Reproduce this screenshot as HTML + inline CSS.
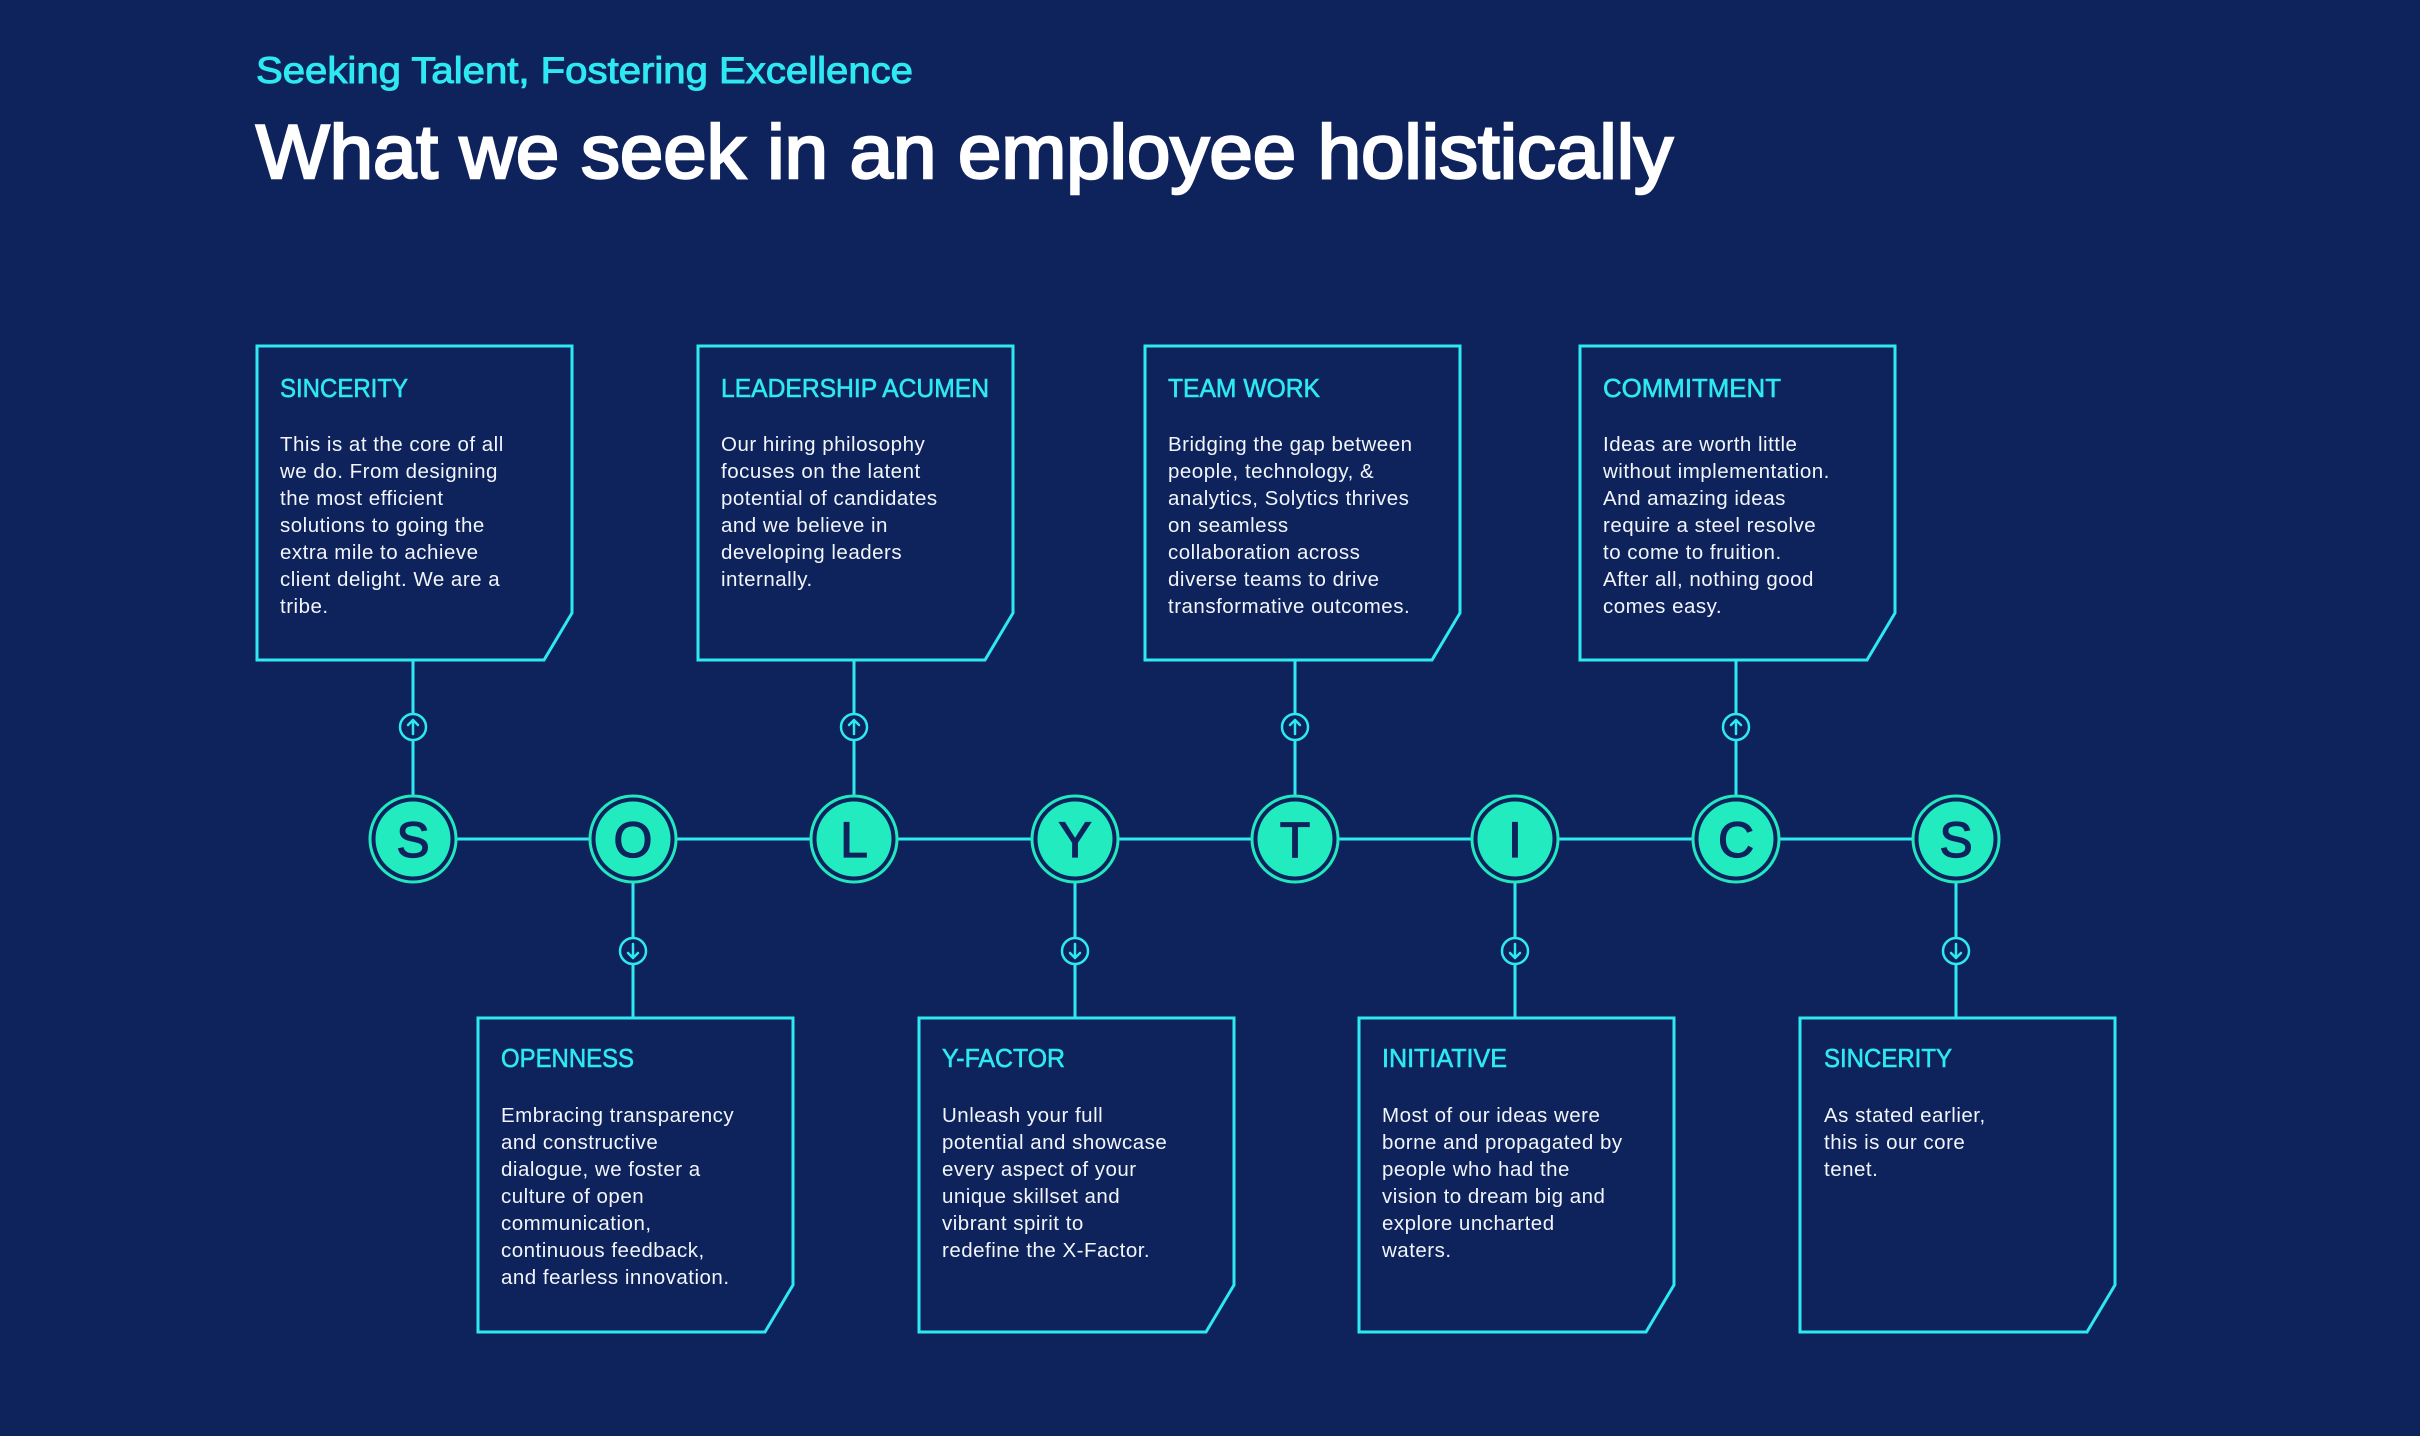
<!DOCTYPE html>
<html><head><meta charset="utf-8"><style>
html,body{margin:0;padding:0;background:#0e235c;}
svg{display:block}
.t{font-family:"Liberation Sans",sans-serif;fill:#2ee8f2;font-size:26px;stroke:#2ee8f2;stroke-width:0.6;}
.b{font-family:"Liberation Sans",sans-serif;fill:#f2f5fa;font-size:20.5px;letter-spacing:0.5px;}
.L{font-family:"Liberation Sans",sans-serif;fill:#0e235c;font-size:50px;text-anchor:middle;stroke:#0e235c;stroke-width:1.2;}
</style></head><body>
<svg width="2420" height="1436" viewBox="0 0 2420 1436" xmlns="http://www.w3.org/2000/svg">
<rect width="2420" height="1436" fill="#0e235c"/>
<text x="256" y="83" font-family="Liberation Sans, sans-serif" font-size="37" fill="#2ee8f2" textLength="657" lengthAdjust="spacingAndGlyphs" stroke="#2ee8f2" stroke-width="1">Seeking Talent, Fostering Excellence</text>
<text x="256" y="178" font-family="Liberation Sans, sans-serif" font-size="76" fill="#ffffff" textLength="1417" lengthAdjust="spacingAndGlyphs" stroke="#ffffff" stroke-width="2.5">What we seek in an employee holistically</text>

<g stroke="#2ee8f2" stroke-width="3" fill="none">
<line x1="413" y1="839" x2="1956" y2="839"/>
<line x1="413" y1="660" x2="413" y2="795"/>
<line x1="854" y1="660" x2="854" y2="795"/>
<line x1="1295" y1="660" x2="1295" y2="795"/>
<line x1="1736" y1="660" x2="1736" y2="795"/>
<line x1="633" y1="883" x2="633" y2="1018"/>
<line x1="1075" y1="883" x2="1075" y2="1018"/>
<line x1="1515" y1="883" x2="1515" y2="1018"/>
<line x1="1956" y1="883" x2="1956" y2="1018"/>
<path d="M257 346 H572 V613 L544 660 H257 Z"/>
<path d="M698 346 H1013 V613 L985 660 H698 Z"/>
<path d="M1145 346 H1460 V613 L1432 660 H1145 Z"/>
<path d="M1580 346 H1895 V613 L1867 660 H1580 Z"/>
<path d="M478 1018 H793 V1285 L765 1332 H478 Z"/>
<path d="M919 1018 H1234 V1285 L1206 1332 H919 Z"/>
<path d="M1359 1018 H1674 V1285 L1646 1332 H1359 Z"/>
<path d="M1800 1018 H2115 V1285 L2087 1332 H1800 Z"/>
</g>
<g stroke="#2ee8f2" stroke-width="2.5" fill="#0e235c" stroke-linecap="round" stroke-linejoin="round">
<g transform="translate(413,727)"><circle r="13"/><path d="M0 7V-7M-5 -2L0 -7L5 -2" fill="none"/></g>
<g transform="translate(854,727)"><circle r="13"/><path d="M0 7V-7M-5 -2L0 -7L5 -2" fill="none"/></g>
<g transform="translate(1295,727)"><circle r="13"/><path d="M0 7V-7M-5 -2L0 -7L5 -2" fill="none"/></g>
<g transform="translate(1736,727)"><circle r="13"/><path d="M0 7V-7M-5 -2L0 -7L5 -2" fill="none"/></g>
<g transform="translate(633,951)"><circle r="13"/><path d="M0 -7V7M-5 2L0 7L5 2" fill="none"/></g>
<g transform="translate(1075,951)"><circle r="13"/><path d="M0 -7V7M-5 2L0 7L5 2" fill="none"/></g>
<g transform="translate(1515,951)"><circle r="13"/><path d="M0 -7V7M-5 2L0 7L5 2" fill="none"/></g>
<g transform="translate(1956,951)"><circle r="13"/><path d="M0 -7V7M-5 2L0 7L5 2" fill="none"/></g>
</g>
<g>
<g transform="translate(413,839)"><circle r="43" fill="#0e235c" stroke="#22e8c0" stroke-width="3"/><circle r="37.5" fill="#22ebc0"/><text class="L" y="18">S</text></g>
<g transform="translate(633,839)"><circle r="43" fill="#0e235c" stroke="#22e8c0" stroke-width="3"/><circle r="37.5" fill="#22ebc0"/><text class="L" y="18">O</text></g>
<g transform="translate(854,839)"><circle r="43" fill="#0e235c" stroke="#22e8c0" stroke-width="3"/><circle r="37.5" fill="#22ebc0"/><text class="L" y="18">L</text></g>
<g transform="translate(1075,839)"><circle r="43" fill="#0e235c" stroke="#22e8c0" stroke-width="3"/><circle r="37.5" fill="#22ebc0"/><text class="L" y="18">Y</text></g>
<g transform="translate(1295,839)"><circle r="43" fill="#0e235c" stroke="#22e8c0" stroke-width="3"/><circle r="37.5" fill="#22ebc0"/><text class="L" y="18">T</text></g>
<g transform="translate(1515,839)"><circle r="43" fill="#0e235c" stroke="#22e8c0" stroke-width="3"/><circle r="37.5" fill="#22ebc0"/><text class="L" y="18">I</text></g>
<g transform="translate(1736,839)"><circle r="43" fill="#0e235c" stroke="#22e8c0" stroke-width="3"/><circle r="37.5" fill="#22ebc0"/><text class="L" y="18">C</text></g>
<g transform="translate(1956,839)"><circle r="43" fill="#0e235c" stroke="#22e8c0" stroke-width="3"/><circle r="37.5" fill="#22ebc0"/><text class="L" y="18">S</text></g>
</g>

<text class="t" x="280" y="397" textLength="128" lengthAdjust="spacingAndGlyphs">SINCERITY</text>
<text class="b"><tspan x="280" y="451">This is at the core of all</tspan><tspan x="280" dy="27">we do. From designing</tspan><tspan x="280" dy="27">the most efficient</tspan><tspan x="280" dy="27">solutions to going the</tspan><tspan x="280" dy="27">extra mile to achieve</tspan><tspan x="280" dy="27">client delight. We are a</tspan><tspan x="280" dy="27">tribe.</tspan></text>

<text class="t" x="721" y="397" textLength="268" lengthAdjust="spacingAndGlyphs">LEADERSHIP ACUMEN</text>
<text class="b"><tspan x="721" y="451">Our hiring philosophy</tspan><tspan x="721" dy="27">focuses on the latent</tspan><tspan x="721" dy="27">potential of candidates</tspan><tspan x="721" dy="27">and we believe in</tspan><tspan x="721" dy="27">developing leaders</tspan><tspan x="721" dy="27">internally.</tspan></text>

<text class="t" x="1168" y="397" textLength="152" lengthAdjust="spacingAndGlyphs">TEAM WORK</text>
<text class="b"><tspan x="1168" y="451">Bridging the gap between</tspan><tspan x="1168" dy="27">people, technology, &amp;</tspan><tspan x="1168" dy="27">analytics, Solytics thrives</tspan><tspan x="1168" dy="27">on seamless</tspan><tspan x="1168" dy="27">collaboration across</tspan><tspan x="1168" dy="27">diverse teams to drive</tspan><tspan x="1168" dy="27">transformative outcomes.</tspan></text>

<text class="t" x="1603" y="397" textLength="178" lengthAdjust="spacingAndGlyphs">COMMITMENT</text>
<text class="b"><tspan x="1603" y="451">Ideas are worth little</tspan><tspan x="1603" dy="27">without implementation.</tspan><tspan x="1603" dy="27">And amazing ideas</tspan><tspan x="1603" dy="27">require a steel resolve</tspan><tspan x="1603" dy="27">to come to fruition.</tspan><tspan x="1603" dy="27">After all, nothing good</tspan><tspan x="1603" dy="27">comes easy.</tspan></text>

<text class="t" x="501" y="1067" textLength="133" lengthAdjust="spacingAndGlyphs">OPENNESS</text>
<text class="b"><tspan x="501" y="1122">Embracing transparency</tspan><tspan x="501" dy="27">and constructive</tspan><tspan x="501" dy="27">dialogue, we foster a</tspan><tspan x="501" dy="27">culture of open</tspan><tspan x="501" dy="27">communication,</tspan><tspan x="501" dy="27">continuous feedback,</tspan><tspan x="501" dy="27">and fearless innovation.</tspan></text>

<text class="t" x="942" y="1067" textLength="123" lengthAdjust="spacingAndGlyphs">Y-FACTOR</text>
<text class="b"><tspan x="942" y="1122">Unleash your full</tspan><tspan x="942" dy="27">potential and showcase</tspan><tspan x="942" dy="27">every aspect of your</tspan><tspan x="942" dy="27">unique skillset and</tspan><tspan x="942" dy="27">vibrant spirit to</tspan><tspan x="942" dy="27">redefine the X-Factor.</tspan></text>

<text class="t" x="1382" y="1067" textLength="125" lengthAdjust="spacingAndGlyphs">INITIATIVE</text>
<text class="b"><tspan x="1382" y="1122">Most of our ideas were</tspan><tspan x="1382" dy="27">borne and propagated by</tspan><tspan x="1382" dy="27">people who had the</tspan><tspan x="1382" dy="27">vision to dream big and</tspan><tspan x="1382" dy="27">explore uncharted</tspan><tspan x="1382" dy="27">waters.</tspan></text>

<text class="t" x="1824" y="1067" textLength="128" lengthAdjust="spacingAndGlyphs">SINCERITY</text>
<text class="b"><tspan x="1824" y="1122">As stated earlier,</tspan><tspan x="1824" dy="27">this is our core</tspan><tspan x="1824" dy="27">tenet.</tspan></text>
</svg>
</body></html>
